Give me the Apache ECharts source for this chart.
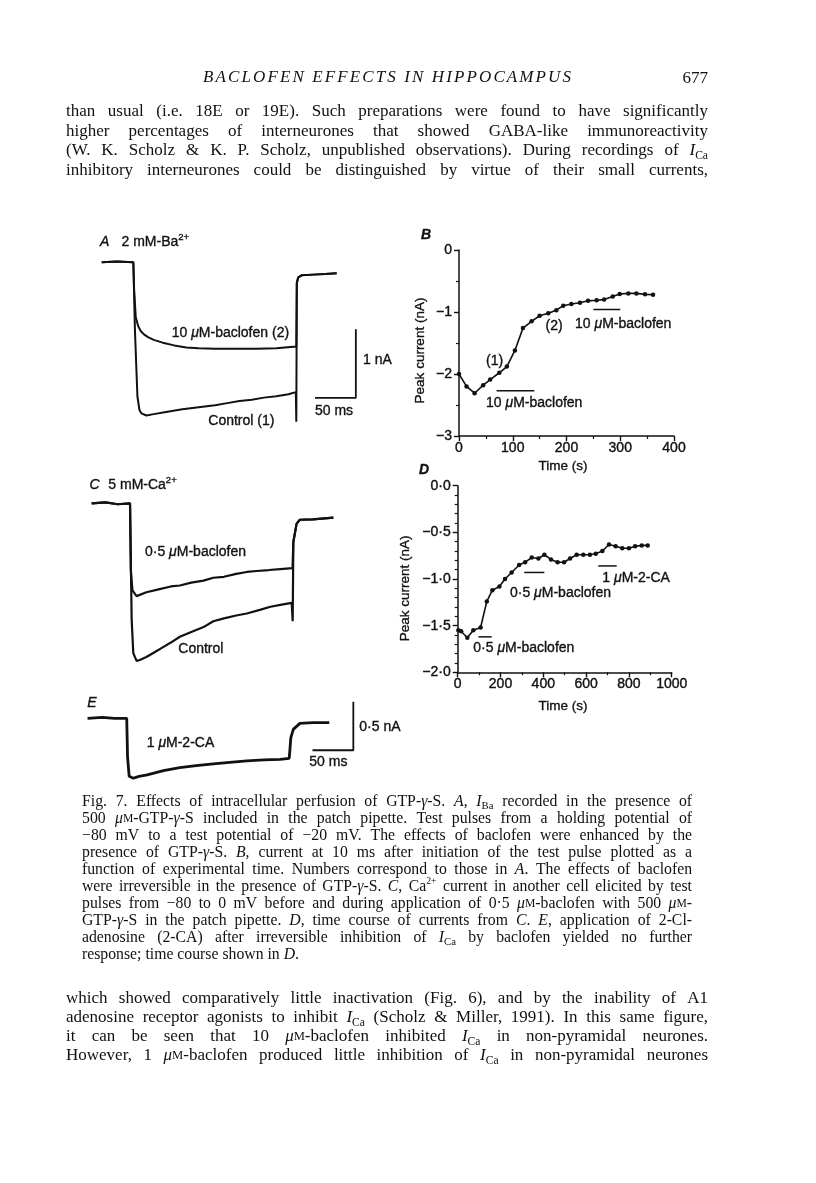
<!DOCTYPE html>
<html>
<head>
<meta charset="utf-8">
<script src="https://cdn.jsdelivr.net/npm/echarts@6/dist/echarts.min.js"></script>
<style>
  html, body { margin: 0; background: #fff; }
  #page { width: 816px; height: 1183px; }
</style>
</head>
<body>
<div id="page"></div>
<script>
// ---- B: peak current (nA) against time (s)
const bTime = [0, 14, 29, 45, 58, 75, 89, 104, 119, 135, 150, 166, 181, 194, 209, 225, 240, 256, 270, 286, 299, 315, 330, 346, 361];
const bCurrent = [-2.0, -2.2, -2.31, -2.18, -2.09, -1.98, -1.88, -1.62, -1.26, -1.15, -1.06, -1.02, -0.97, -0.9, -0.87, -0.85, -0.82, -0.81, -0.8, -0.75, -0.71, -0.7, -0.7, -0.715, -0.72];
const bDrug = [[70, 140, -2.27], [250, 300, -0.96]]; // start, end, level

// ---- D: peak current (nA) against time (s)
const dTime = [3, 16, 45, 73, 107, 136, 162, 195, 221, 252, 287, 315, 346, 377, 405, 436, 467, 497, 525, 556, 587, 618, 645, 676, 707, 738, 769, 800, 829, 860, 888];
const dCurrent = [-1.55, -1.56, -1.63, -1.55, -1.52, -1.24, -1.12, -1.08, -1.0, -0.93, -0.85, -0.82, -0.77, -0.78, -0.74, -0.79, -0.82, -0.82, -0.78, -0.74, -0.74, -0.74, -0.73, -0.70, -0.63, -0.65, -0.67, -0.67, -0.65, -0.64, -0.64];
const dDrug = [[97, 159, -1.62], [311, 405, -0.93], [657, 743, -0.86]];

// ---- A traces (ms from pulse onset, nA)
const aCtrlT = [-38.7, -20, 0, 0.6, 2, 5, 7.5, 10, 16, 25, 40, 60, 80, 100, 115, 130, 145, 160, 175, 190, 199, 199.6, 200.2, 202, 206, 220, 235, 249];
const aCtrlI = [0, 0.01, 0, -0.3, -1.0, -1.95, -2.15, -2.2, -2.23, -2.21, -2.18, -2.14, -2.11, -2.08, -2.05, -2.02, -2.0, -1.97, -1.95, -1.92, -1.89, -2.32, -0.3, -0.22, -0.19, -0.18, -0.17, -0.16];
const aBacT = [-38.7, -20, 0, 1, 3, 6, 9, 13, 18, 25, 36, 50, 65, 80, 100, 125, 150, 175, 196, 199.6, 200.2, 202, 206, 220, 235, 249];
const aBacI = [0, 0.01, 0, -0.4, -0.8, -0.93, -1.0, -1.05, -1.09, -1.13, -1.17, -1.21, -1.24, -1.25, -1.26, -1.26, -1.26, -1.25, -1.23, -1.23, -0.3, -0.22, -0.19, -0.18, -0.17, -0.16];

// ---- C traces
const cBacT = [-47, -30, -15, 0, 1, 3, 8, 20, 35, 50, 61, 75, 90, 102, 115, 130, 143, 155, 170, 184, 199, 200, 204, 208, 224, 249];
const cBacI = [0, 0.01, -0.01, 0, -0.7, -0.9, -0.96, -0.92, -0.89, -0.86, -0.85, -0.82, -0.8, -0.77, -0.76, -0.73, -0.71, -0.70, -0.69, -0.68, -0.67, -0.4, -0.21, -0.17, -0.166, -0.148];
const cCtrlT = [-47, -30, -15, 0, 2, 4, 8, 12, 20, 30, 40, 50, 61, 75, 90, 102, 115, 130, 143, 160, 172, 184, 198, 199.2, 200, 204, 208, 224, 249];
const cCtrlI = [0, 0.01, -0.01, 0, -1.2, -1.55, -1.63, -1.62, -1.59, -1.54, -1.49, -1.44, -1.38, -1.33, -1.28, -1.22, -1.19, -1.16, -1.14, -1.1, -1.07, -1.05, -1.03, -1.22, -0.4, -0.21, -0.17, -0.166, -0.148];

// ---- E trace
const eT = [-48, -30, -15, 0, 1, 3, 8, 15, 25, 45, 65, 85, 106, 126, 147, 168, 188, 199, 201, 204, 212, 228, 248];
const eI = [0, 0.01, 0, 0, -0.4, -0.6, -0.62, -0.6, -0.585, -0.54, -0.51, -0.49, -0.47, -0.455, -0.44, -0.43, -0.425, -0.414, -0.2, -0.114, -0.052, -0.045, -0.045];

// scale bars: [ms, nA]
const scaleA = [50, 1];
const scaleCE = [50, 0.5];

const INK = "#111111";
const SERIF = "'Liberation Serif', serif";
const SANS = "'Liberation Sans', Arial, sans-serif";
const pair = (xs, ys) => xs.map((x, i) => [x, ys[i]]);

// ---------- text helpers
const mctx = document.createElement("canvas").getContext("2d");
function fontStr(s) {
  return (s.fontStyle || "normal") + " " + (s.fontWeight || "normal") + " " + s.fontSize + "px " + s.fontFamily;
}
function makeRich(base, defs) {
  const r = {};
  for (const k in defs) r[k] = Object.assign({}, base, defs[k]);
  return r;
}
function tokenWidth(tok, base, rich) {
  let w = 0;
  tok.replace(/\{(\w+)\|([^}]*)\}|([^{]+)/g, (m, k, t, p) => {
    const s = k ? rich[k] : base;
    mctx.font = fontStr(s);
    w += mctx.measureText(k ? t : p).width;
    return m;
  });
  return w;
}
function textEl(x, y, text, base, rich, align) {
  return {
    type: "text", x: x, y: y, silent: true,
    style: Object.assign({}, base, { text: text, rich: rich, align: align || "left", verticalAlign: "middle" })
  };
}
function serifStyles(size) {
  const base = { fontFamily: SERIF, fontSize: size, lineHeight: Math.round(size * 1.25), fill: INK };
  return {
    base: base,
    rich: makeRich(base, {
      i: { fontStyle: "italic" },
      sub: { fontSize: size * 0.68, lineHeight: size * 0.7, verticalAlign: "bottom" },
      sup: { fontSize: size * 0.62, lineHeight: size * 0.62, verticalAlign: "top" },
      sc: { fontSize: size * 0.74 }
    })
  };
}
function lineGap(str, st, x0, x1) {
  const toks = str.split(" ");
  const sum = toks.reduce((a, t) => a + tokenWidth(t, st.base, st.rich), 0);
  return (x1 - x0 - sum) / Math.max(1, toks.length - 1);
}
// largest size whose justified lines still keep a sensible word gap
function fitStyles(lines, nJust, x0, x1, maxSize) {
  for (let s = maxSize; s > 10; s -= 0.25) {
    const st = serifStyles(s);
    let ok = true;
    for (let i = 0; i < nJust; i++) if (lineGap(lines[i], st, x0, x1) < s * 0.2) { ok = false; break; }
    if (ok) return st;
  }
  return serifStyles(10);
}
function justifyLine(str, x0, x1, y, st, justify, out) {
  const toks = str.split(" ");
  const ws = toks.map(t => tokenWidth(t, st.base, st.rich));
  mctx.font = fontStr(st.base);
  const gap = justify ? lineGap(str, st, x0, x1) : mctx.measureText(" ").width;
  let x = x0;
  toks.forEach((t, i) => { out.push(textEl(x, y, t, st.base, st.rich)); x += ws[i] + gap; });
}
function spreadChars(str, x0, x1, y, base, out) {
  const ch = str.split("");
  mctx.font = fontStr(base);
  const ws = ch.map(c => mctx.measureText(c).width);
  const extra = (x1 - x0 - ws.reduce((a, b) => a + b, 0)) / (ch.length - 1);
  let x = x0;
  ch.forEach((c, i) => { if (c !== " ") out.push(textEl(x, y, c, base, {})); x += ws[i] + extra; });
}

const topLines = [
  "than usual (i.e. 18E or 19E). Such preparations were found to have significantly",
  "higher percentages of interneurones that showed GABA-like immunoreactivity",
  "(W. K. Scholz & K. P. Scholz, unpublished observations). During recordings of {i|I}{sub|Ca}",
  "inhibitory interneurones could be distinguished by virtue of their small currents,"
];
const capLines = [
  "Fig. 7. Effects of intracellular perfusion of GTP-{i|γ}-S. {i|A}, {i|I}{sub|Ba} recorded in the presence of",
  "500 {i|μ}{sc|M}-GTP-{i|γ}-S included in the patch pipette. Test pulses from a holding potential of",
  "−80 mV to a test potential of −20 mV. The effects of baclofen were enhanced by the",
  "presence of GTP-{i|γ}-S. {i|B}, current at 10 ms after initiation of the test pulse plotted as a",
  "function of experimental time. Numbers correspond to those in {i|A}. The effects of baclofen",
  "were irreversible in the presence of GTP-{i|γ}-S. {i|C}, Ca{sup|2+} current in another cell elicited by test",
  "pulses from −80 to 0 mV before and during application of 0·5 {i|μ}{sc|M}-baclofen with 500 {i|μ}{sc|M}-",
  "GTP-{i|γ}-S in the patch pipette. {i|D}, time course of currents from {i|C}. {i|E}, application of 2-Cl-",
  "adenosine (2-CA) after irreversible inhibition of {i|I}{sub|Ca} by baclofen yielded no further",
  "response; time course shown in {i|D}."
];
const bottomLines = [
  "which showed comparatively little inactivation (Fig. 6), and by the inability of A1",
  "adenosine receptor agonists to inhibit {i|I}{sub|Ca} (Scholz & Miller, 1991). In this same figure,",
  "it can be seen that 10 {i|μ}{sc|M}-baclofen inhibited {i|I}{sub|Ca} in non-pyramidal neurones.",
  "However, 1 {i|μ}{sc|M}-baclofen produced little inhibition of {i|I}{sub|Ca} in non-pyramidal neurones"
];

const g = [];
const bodySt = fitStyles(topLines.concat(bottomLines), 8, 66, 708, 17);
const capSt = fitStyles(capLines, 9, 82, 692, 15.75);

spreadChars("BACLOFEN EFFECTS IN HIPPOCAMPUS", 203, 571, 78,
  Object.assign({}, bodySt.base, { fontStyle: "italic", fontSize: 17 }), g);
g.push(textEl(708, 79, "677", bodySt.base, {}, "right"));
const topY = [111.5, 131.3, 151, 170.5];
topLines.forEach((l, i) => justifyLine(l, 66, 708, topY[i], bodySt, true, g));
capLines.forEach((l, i) => justifyLine(l, 82, 692, 801.7 + i * 17.03, capSt, i < capLines.length - 1, g));
const botY = [999, 1018, 1037, 1056];
bottomLines.forEach((l, i) => justifyLine(l, 66, 708, botY[i], bodySt, true, g));

// figure labels (sans, slightly thickened like the printed figure)
const figBase = { fontFamily: SANS, fontSize: 14, lineHeight: 19, fill: INK, stroke: INK, lineWidth: 0.35 };
const figRich = makeRich(figBase, {
  i: { fontStyle: "italic" },
  ib: { fontStyle: "italic", fontWeight: "bold" },
  sup: { fontSize: 9.5, lineHeight: 9.5, verticalAlign: "top" }
});
const fig = (x, y, t) => g.push(textEl(x, y, t, figBase, figRich));
fig(100, 242, "{i|A}");
fig(121.5, 242, "2 mM-Ba{sup|2+}");
fig(171.7, 333.3, "10 {i|μ}M-baclofen (2)");
fig(208.3, 421, "Control (1)");
fig(363, 360, "1 nA");
fig(315, 410.7, "50 ms");
fig(89.5, 485, "{i|C}");
fig(108.3, 485, "5 mM-Ca{sup|2+}");
fig(145, 551.7, "0·5 {i|μ}M-baclofen");
fig(178.3, 649.3, "Control");
fig(87.3, 703.3, "{i|E}");
fig(146.7, 742.7, "1 {i|μ}M-2-CA");
fig(359.3, 726.7, "0·5 nA");
fig(309.3, 761.7, "50 ms");
fig(421, 235, "{ib|B}");
fig(486, 360.7, "(1)");
fig(486, 403.3, "10 {i|μ}M-baclofen");
fig(545.5, 325.7, "(2)");
fig(575, 323.7, "10 {i|μ}M-baclofen");
fig(419, 470, "{ib|D}");
fig(473.3, 648.3, "0·5 {i|μ}M-baclofen");
fig(510, 593.3, "0·5 {i|μ}M-baclofen");
fig(602.3, 578.3, "1 {i|μ}M-2-CA");
const nameBase = Object.assign({}, figBase, { fontSize: 13.5 });
g.push(textEl(563, 466.5, "Time (s)", nameBase, {}, "center"));
g.push(textEl(563, 706, "Time (s)", nameBase, {}, "center"));
[[420, 350.5], [405, 588.3]].forEach(([x, y]) => {
  const el = textEl(x, y, "Peak current (nA)", nameBase, {}, "center");
  el.rotation = Math.PI / 2;
  g.push(el);
});

// ---------- chart
const chart = echarts.init(document.getElementById("page"), null, { renderer: "canvas", width: 816, height: 1183 });

const hidden = (i, min, max) => ({ gridIndex: i, type: "value", min: min, max: max, show: false });
const axisCommon = {
  type: "value",
  splitLine: { show: false },
  axisLine: { show: true, onZero: false, lineStyle: { color: INK, width: 1.5 } },
  axisTick: { show: true, length: 5, lineStyle: { color: INK, width: 1.4 } },
  minorTick: { show: true, length: 3, lineStyle: { color: INK, width: 1.2 } },
  axisLabel: {
    color: INK, fontSize: 14, fontFamily: SANS,
    textBorderColor: INK, textBorderWidth: 0.4
  }
};
const plain = v => String(v);
const minus = v => (v < 0 ? "\u2212" : "") + Math.abs(v);
const minusDot = v => (v < 0 ? "\u2212" : "") + Math.abs(v).toFixed(1).replace(".", "\u00b7");
const realAxis = (i, min, max, interval, minorSplit, margin, fmt) =>
  Object.assign({}, axisCommon, {
    gridIndex: i, min: min, max: max, interval: interval,
    minorTick: Object.assign({}, axisCommon.minorTick, { splitNumber: minorSplit }),
    axisLabel: Object.assign({}, axisCommon.axisLabel, { margin: margin, formatter: fmt })
  });

const traceLine = (xi, data, w) => ({
  type: "line", xAxisIndex: xi, yAxisIndex: xi, data: data, symbol: "none",
  lineStyle: { color: INK, width: w }, animation: false, silent: true
});
const scaleBar = (xi, x, y, s) => traceLine(xi, [[x, y], [x + s[0], y], [x + s[0], y + s[1]]], 1.8);
const dotLine = (xi, data) => ({
  type: "line", xAxisIndex: xi, yAxisIndex: xi, data: data,
  symbol: "circle", symbolSize: 4.5, itemStyle: { color: INK },
  lineStyle: { color: INK, width: 1.6 }, animation: false, z: 3
});

const series = [
  traceLine(0, pair(aCtrlT, aCtrlI), 2),
  traceLine(0, pair(aBacT, aBacI), 2),
  scaleBar(0, 222.5, -1.975, scaleA),
  traceLine(1, pair(cCtrlT, cCtrlI), 2.2),
  traceLine(1, pair(cBacT, cBacI), 2.2),
  traceLine(2, pair(eT, eI), 2.8),
  scaleBar(2, 227.5, -0.33, scaleCE),
  dotLine(3, pair(bTime, bCurrent)),
  dotLine(4, pair(dTime, dCurrent))
];
bDrug.forEach(([a, b, y]) => series.push(traceLine(3, [[a, y], [b, y]], 1.5)));
dDrug.forEach(([a, b, y]) => series.push(traceLine(4, [[a, y], [b, y]], 1.5)));

chart.setOption({
  backgroundColor: "#ffffff",
  animation: false,
  grid: [
    { left: 92.5, top: 227.9, width: 285.8, height: 240.5 },
    { left: 89.2, top: 474.3, width: 285.8, height: 222.4 },
    { left: 85.9, top: 689.3, width: 285.8, height: 106.4 },
    { left: 459, top: 250, width: 215, height: 186 },
    { left: 457.7, top: 485.7, width: 214, height: 186.6 }
  ],
  xAxis: [
    hidden(0, -50, 300),
    hidden(1, -50, 300),
    hidden(2, -50, 300),
    realAxis(3, 0, 400, 100, 2, 5, plain),
    realAxis(4, 0, 1000, 200, 2, 5, plain)
  ],
  yAxis: [
    hidden(0, -3, 0.5),
    hidden(1, -2, 0.3),
    hidden(2, -0.8, 0.3),
    realAxis(3, -3, 0, 1, 2, 7, minus),
    realAxis(4, -2, 0, 0.5, 5, 7, minusDot)
  ],
  series: series,
  graphic: { elements: g }
});
</script>
</body>
</html>
